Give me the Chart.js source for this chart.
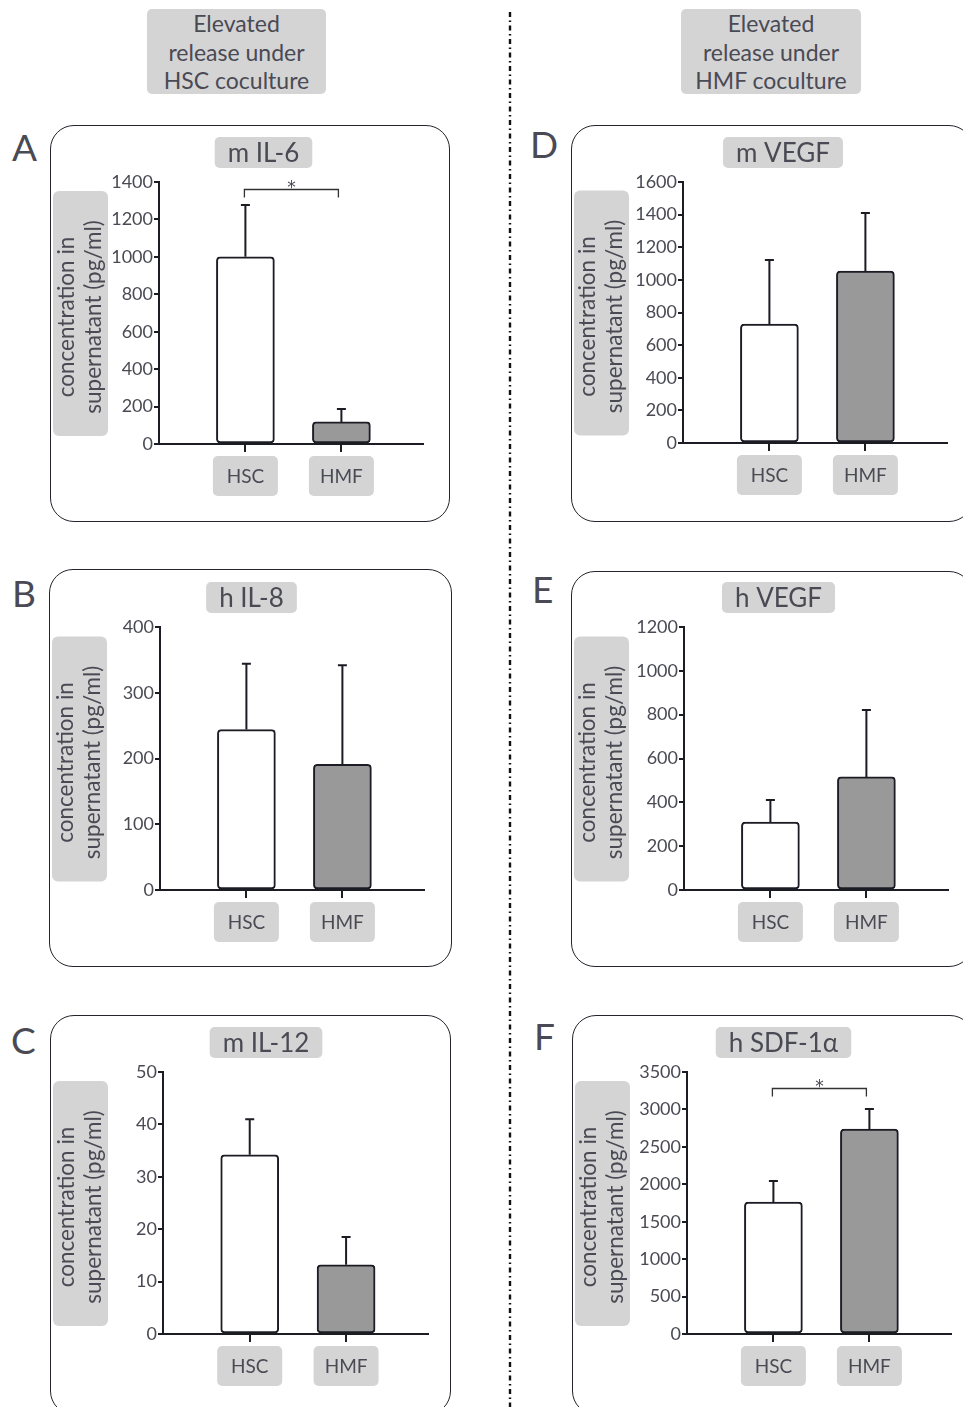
<!DOCTYPE html>
<html>
<head>
<meta charset="utf-8">
<script src="https://cdn.jsdelivr.net/npm/chart.js@4"></script>
<style>
  html, body { margin: 0; padding: 0; background: #fff; }
  body { width: 963px; height: 1407px; position: relative; overflow: hidden; font-family: Lato, "Open Sans", sans-serif; color: #4a4a55; }
  .hdr { position: absolute; background: #d4d4d4; border-radius: 5px; text-align: center; font-size: 23px; line-height: 28.5px; }
  .letter { position: absolute; font-size: 37px; line-height: 37px; }
  .panel { position: absolute; box-sizing: border-box; border: 1.8px solid #24242c; border-radius: 24px; }
  canvas { position: absolute; }
</style>
</head>
<body>

<div class="hdr" style="left:147px;top:9px;width:179px;height:85px">Elevated<br>release under<br>HSC coculture</div>
<div class="hdr" style="left:681px;top:9px;width:180px;height:85px">Elevated<br>release under<br>HMF coculture</div>

<svg width="963" height="1407" style="position:absolute;left:0;top:0">
  <line x1="510" y1="12" x2="510" y2="1407" stroke="#111" stroke-width="2.4" stroke-dasharray="5 3.5 1.5 3.5"/>
</svg>

<div id="panels"></div>

<script>
// ---------- data (panel order: A, B, C, D, E, F) ----------
const groups = ['HSC', 'HMF'];
const chartTitles = ['m IL-6', 'h IL-8', 'm IL-12', 'm VEGF', 'h VEGF', 'h SDF-1α'];
const hscMean = [1000, 244, 34.2, 729, 310, 1763];
const hscErr  = [277, 100, 6.8, 393, 101, 281];
const hmfMean = [118, 191, 13.2, 1054, 516, 2739];
const hmfErr  = [69, 151, 5.3, 356, 305, 267];
const yMax    = [1400, 400, 50, 1600, 1200, 3500];
const yStep   = [200, 100, 10, 200, 200, 500];
const bracketLevel = [1365, null, null, null, null, 3290];   // "*" comparison line, in axis units
const yTitleLines = ['concentration in', 'supernatant (pg/ml)'];

// ---------- page layout ----------
const layout = [
    { letter: 'A', lx: 12, ly: 128, left: 50,  top: 125,  w: 400, h: 397, axisX: 159, axisTop: 182,  axisZero: 444,  axisRight: 423, titleX: 263.5 },
    { letter: 'B', lx: 12, ly: 574, left: 49,  top: 569,  w: 403, h: 398, axisX: 160, axisTop: 627,  axisZero: 890,  axisRight: 424, titleX: 251.5 },
    { letter: 'C', lx: 11, ly: 1021, left: 50, top: 1015, w: 401, h: 400, axisX: 163, axisTop: 1072, axisZero: 1334, axisRight: 428, titleX: 266 },
    { letter: 'D', lx: 530, ly: 125, left: 571, top: 125,  w: 402, h: 397, axisX: 683, axisTop: 182,  axisZero: 443,  axisRight: 947, titleX: 783 },
    { letter: 'E', lx: 532, ly: 570, left: 571, top: 571,  w: 402, h: 396, axisX: 684, axisTop: 627,  axisZero: 890,  axisRight: 948, titleX: 778.5 },
    { letter: 'F', lx: 534, ly: 1017, left: 572, top: 1015, w: 402, h: 400, axisX: 687, axisTop: 1072, axisZero: 1334, axisRight: 951, titleX: 783.5 },
];

const INK = '#1c1c24';
const TEXT = '#4a4a55';
const BOXGREY = '#d4d4d4';
const BARGREY = '#999999';
const FONT = 'Lato, "Open Sans", sans-serif';

Chart.defaults.font.family = FONT;
Chart.defaults.color = TEXT;

function roundBox(ctx, x, y, w, h, r) {
    ctx.beginPath();
    ctx.roundRect(x, y, w, h, r);
    ctx.fillStyle = BOXGREY;
    ctx.fill();
}

// draws error bars, significance bracket, title and label boxes
const decorPlugin = {
    id: 'decor',
    afterDatasetsDraw(chart, args, opts) {
        const i = opts.index;
        const ctx = chart.ctx;
        const xs = chart.scales.x, ys = chart.scales.y;
        const area = chart.chartArea;
        const means = [hscMean[i], hmfMean[i]];
        const errs = [hscErr[i], hmfErr[i]];

        ctx.save();
        // error bars (upper only)
        ctx.strokeStyle = INK;
        ctx.lineWidth = 2;
        means.forEach((m, k) => {
            const px = xs.getPixelForValue(k + 1);
            const y0 = ys.getPixelForValue(m);
            const y1 = ys.getPixelForValue(m + errs[k]);
            ctx.beginPath();
            ctx.moveTo(px, y0);
            ctx.lineTo(px, y1);
            ctx.moveTo(px - 4.5, y1);
            ctx.lineTo(px + 4.5, y1);
            ctx.stroke();
        });

        // significance bracket
        if (bracketLevel[i] != null) {
            const by = Math.round(ys.getPixelForValue(bracketLevel[i])) + 0.5;
            const xa = xs.getPixelForValue(1) - 1;
            const xb = xs.getPixelForValue(2) - 3;
            ctx.lineWidth = 1.3;
            ctx.strokeStyle = '#333';
            ctx.beginPath();
            ctx.moveTo(xa, by + 8);
            ctx.lineTo(xa, by);
            ctx.lineTo(xb, by);
            ctx.lineTo(xb, by + 8);
            ctx.stroke();
            ctx.fillStyle = TEXT;
            ctx.font = '17px "DejaVu Sans", sans-serif';
            ctx.textAlign = 'center';
            ctx.textBaseline = 'alphabetic';
            ctx.fillText('*', (xa + xb) / 2, by + 3);
        }

        // title box
        const L = layout[i];
        ctx.font = '26px ' + FONT;
        const tw = ctx.measureText(chartTitles[i]).width + 26;
        const tcx = L.titleX - L.left;
        const ttop = area.top - 45;
        roundBox(ctx, tcx - tw / 2, ttop, tw, 31, 5);
        ctx.fillStyle = TEXT;
        ctx.textAlign = 'center';
        ctx.textBaseline = 'middle';
        ctx.fillText(chartTitles[i], tcx, ttop + 16.5);

        // y-axis title box
        const ymid = (area.top + area.bottom) / 2;
        roundBox(ctx, 3, ymid - 122, 55, 245, 6);
        ctx.save();
        ctx.translate(3 + 27.5, ymid + 4);
        ctx.rotate(-Math.PI / 2);
        ctx.font = '22.5px ' + FONT;
        ctx.fillStyle = TEXT;
        ctx.fillText(yTitleLines[0], 0, -13.5);
        ctx.fillText(yTitleLines[1], 0, 13.5);
        ctx.restore();

        // category label boxes
        ctx.font = '19px ' + FONT;
        groups.forEach((g, k) => {
            const px = xs.getPixelForValue(k + 1);
            roundBox(ctx, px - 32.5, area.bottom + 12, 65, 40, 5);
            ctx.fillStyle = TEXT;
            ctx.fillText(g, px, area.bottom + 33);
        });
        ctx.restore();
    }
};

function buildPanel(i) {
    const L = layout[i];
    const host = document.getElementById('panels');

    const letter = document.createElement('div');
    letter.className = 'letter';
    letter.style.left = L.lx + 'px';
    letter.style.top = L.ly + 'px';
    letter.textContent = L.letter;
    host.appendChild(letter);

    const box = document.createElement('div');
    box.className = 'panel';
    Object.assign(box.style, { left: L.left + 'px', top: L.top + 'px', width: L.w + 'px', height: L.h + 'px' });
    host.appendChild(box);

    const canvas = document.createElement('canvas');
    canvas.width = L.w;
    canvas.height = L.h;
    canvas.style.left = L.left + 'px';
    canvas.style.top = L.top + 'px';
    host.appendChild(canvas);

    const yWidth = L.axisX - L.left;
    const xHeight = L.top + L.h - L.axisZero;

    new Chart(canvas, {
        type: 'bar',
        data: {
            datasets: [{
                data: [{ x: 1, y: hscMean[i] }, { x: 2, y: hmfMean[i] }],
                backgroundColor: ['#ffffff', BARGREY],
                borderColor: INK,
                borderWidth: 2,
                borderRadius: 4,
                borderSkipped: false,
                barThickness: 58,
            }]
        },
        options: {
            responsive: false,
            animation: false,
            events: [],
            layout: { padding: { top: L.axisTop - L.top, right: L.left + L.w - L.axisRight, left: 0, bottom: 0 } },
            plugins: {
                legend: { display: false },
                tooltip: { enabled: false },
                decor: { index: i }
            },
            scales: {
                x: {
                    type: 'linear',
                    offset: false,
                    min: 0.1,
                    max: 2.85,
                    afterBuildTicks: (s) => { s.ticks = [{ value: 1 }, { value: 2 }]; },
                    afterFit: (s) => { s.height = xHeight; },
                    ticks: { display: false },
                    grid: { offset: false, drawOnChartArea: false, tickLength: 8, color: INK, lineWidth: 2 },
                    border: { color: INK, width: 2 }
                },
                y: {
                    min: 0,
                    max: yMax[i],
                    afterFit: (s) => { s.width = yWidth; },
                    ticks: { stepSize: yStep[i], padding: 1, color: TEXT, font: { size: 18 }, callback: (v) => String(v) },
                    grid: { drawOnChartArea: false, tickLength: 5, color: INK, lineWidth: 2 },
                    border: { color: INK, width: 2 }
                }
            }
        },
        plugins: [decorPlugin]
    });
}

function buildAll() {
    layout.forEach((_, i) => buildPanel(i));
}

if (document.fonts && document.fonts.load) {
    Promise.all([document.fonts.load('20px Lato'), document.fonts.load('24px Lato')]).then(buildAll, buildAll);
} else {
    buildAll();
}
</script>
</body>
</html>
